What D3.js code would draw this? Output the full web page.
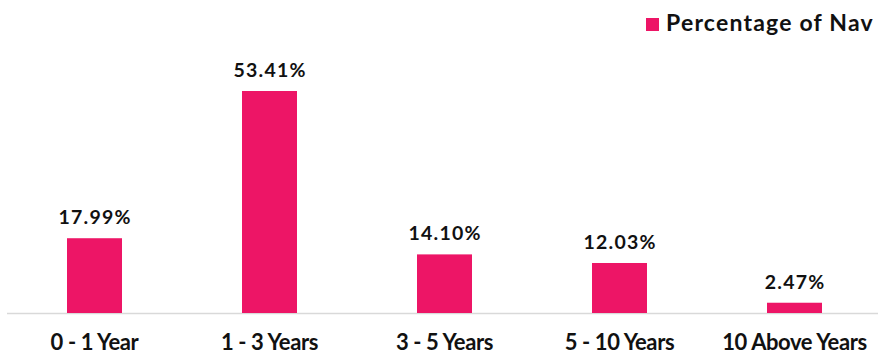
<!DOCTYPE html>
<html><head><meta charset="utf-8">
<script src="https://cdn.jsdelivr.net/npm/d3@7"></script>
<style>body{margin:0;background:#fff;} text{font-family:Lato, "Open Sans", sans-serif;}</style>
</head><body>
<svg id="c" width="878" height="357"></svg>
<script>
const categories = ["0 - 1 Year", "1 - 3 Years", "3 - 5 Years", "5 - 10 Years", "10 Above Years"];
const values = [17.99, 53.41, 14.10, 12.03, 2.47];
const valueLabels = ["17.99%", "53.41%", "14.10%", "12.03%", "2.47%"];
const seriesName = "Percentage of Nav";
const color = "#ED1566";

const svg = d3.select("#c");
const baseY = 313;
const x = d3.scaleBand().domain(categories).range([7, 882]).padding(0);
const y = d3.scaleLinear().domain([0, 53.41]).range([baseY, 91]);
const bw = 55;

svg.append("line").attr("x1", 7).attr("x2", 878).attr("y1", baseY + 0.5).attr("y2", baseY + 0.5)
  .attr("stroke", "#d9d9d9").attr("stroke-width", 1.5);

svg.selectAll("rect.bar").data(values).join("rect").attr("class", "bar")
  .attr("x", (d, i) => x(categories[i]) + x.bandwidth() / 2 - bw / 2)
  .attr("width", bw)
  .attr("y", d => y(d))
  .attr("height", d => baseY - y(d))
  .attr("fill", color);

svg.selectAll("text.val").data(values).join("text").attr("class", "val")
  .attr("x", (d, i) => x(categories[i]) + x.bandwidth() / 2 + 0.6)
  .attr("y", d => y(d) - 14)
  .attr("text-anchor", "middle")
  .attr("font-size", 19.5).attr("font-weight", 700).attr("fill", "#111")
  .attr("letter-spacing", 1.2)
  .text((d, i) => valueLabels[i]);

svg.selectAll("text.cat").data(categories).join("text").attr("class", "cat")
  .attr("x", d => x(d) + x.bandwidth() / 2)
  .attr("y", 350)
  .attr("text-anchor", "middle")
  .attr("font-size", 22).attr("font-weight", 700).attr("fill", "#111")
  .attr("letter-spacing", -0.4)
  .text(d => d);

svg.append("rect").attr("x", 646).attr("y", 18).attr("width", 13).attr("height", 13).attr("fill", color);
svg.append("text").attr("x", 666).attr("y", 31).attr("font-size", 23).attr("font-weight", 700)
  .attr("fill", "#111").attr("letter-spacing", 1.2).text(seriesName);
</script>
</body></html>
